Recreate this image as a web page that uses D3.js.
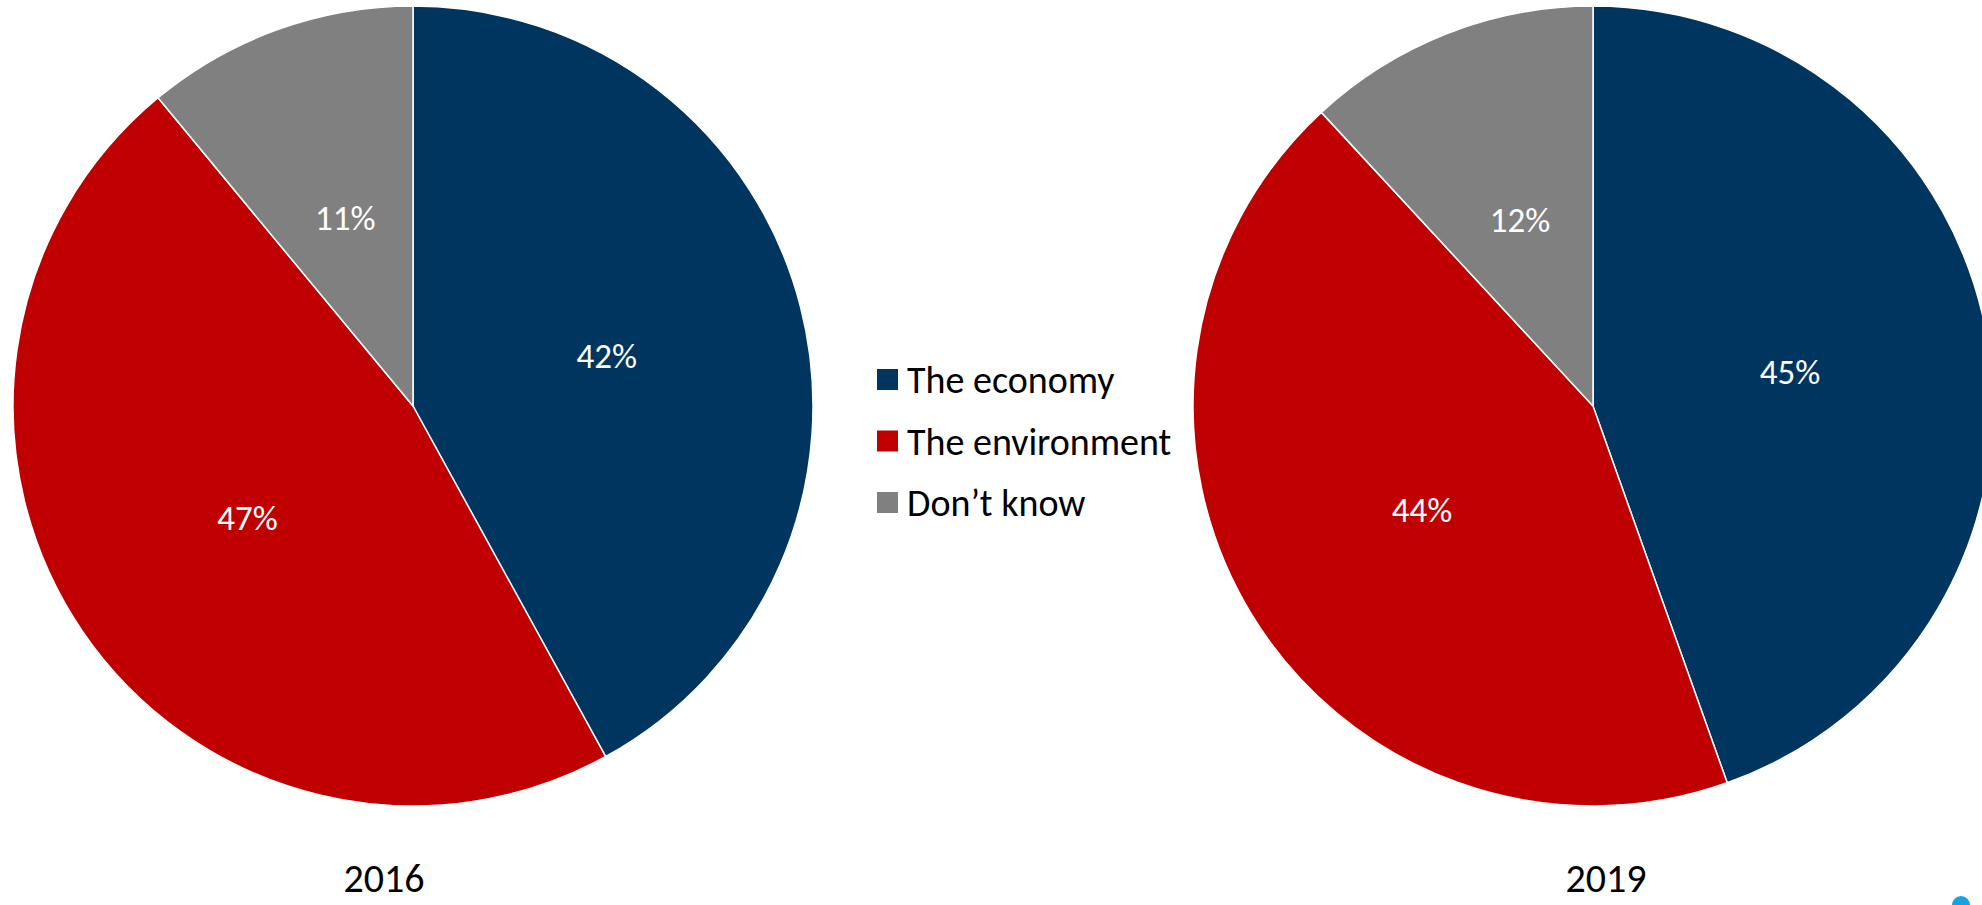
<!DOCTYPE html>
<html>
<head>
<meta charset="utf-8">
<script src="https://cdn.jsdelivr.net/npm/d3@7"></script>
<style>
  html, body { margin: 0; padding: 0; background: #fff; overflow: hidden; }
  svg { display: block; font-family: Carlito, Lato, "Open Sans", sans-serif; }
</style>
</head>
<body>
<svg id="chart" width="1982" height="905"></svg>
<script>
const categories = ["The economy", "The environment", "Don\u2019t know"];
const colors = ["#00355F", "#C00000", "#808080"];
const years = ["2016", "2019"];
const values2016 = [42, 47, 11];
const values2019 = [45, 44, 12];
const seriesValues = [values2016, values2019];

const svg = d3.select("#chart");
const radius = 400;
const centers = [[413, 406], [1593, 406]];
const yearLabelX = [384, 1606];

const pie = d3.pie().sort(null).value(d => d.value);
const arc = d3.arc().innerRadius(0).outerRadius(radius);
const labelArc = d3.arc().innerRadius(radius / 2).outerRadius(radius / 2);
const color = d3.scaleOrdinal().domain(categories).range(colors);

seriesValues.forEach((vals, i) => {
  const data = categories.map((c, j) => ({ cat: c, value: vals[j] }));
  const g = svg.append("g").attr("transform", `translate(${centers[i][0]},${centers[i][1]})`);
  const arcs = pie(data);
  g.selectAll("path").data(arcs).join("path")
    .attr("d", arc)
    .attr("fill", d => color(d.data.cat))
    .attr("stroke", "#fff")
    .attr("stroke-width", 1.5)
    .attr("stroke-linejoin", "round");
  g.selectAll("text").data(arcs).join("text")
    .attr("transform", d => `translate(${labelArc.centroid(d)})`)
    .attr("text-anchor", "middle")
    .attr("dominant-baseline", "central")
    .attr("fill", "#fff")
    .attr("font-size", 35)
    .text(d => d.data.value + "%");
  svg.append("text")
    .attr("x", yearLabelX[i])
    .attr("y", 892)
    .attr("text-anchor", "middle")
    .attr("fill", "#000")
    .attr("font-size", 40)
    .text(years[i]);
});

// Legend
const legend = svg.append("g").attr("transform", "translate(877,369)");
const rowH = 61.5;
const rows = legend.selectAll("g").data(categories).join("g")
  .attr("transform", (d, i) => `translate(0,${i * rowH})`);
rows.append("rect").attr("width", 21).attr("height", 21).attr("fill", d => color(d));
rows.append("text").attr("x", 30).attr("y", 11).attr("dominant-baseline", "central")
  .attr("font-size", 38).attr("fill", "#000").text(d => d);

// small blue dot at bottom right
svg.append("circle").attr("cx", 1961).attr("cy", 905).attr("r", 9).attr("fill", "#17A2E3");
</script>
</body>
</html>
